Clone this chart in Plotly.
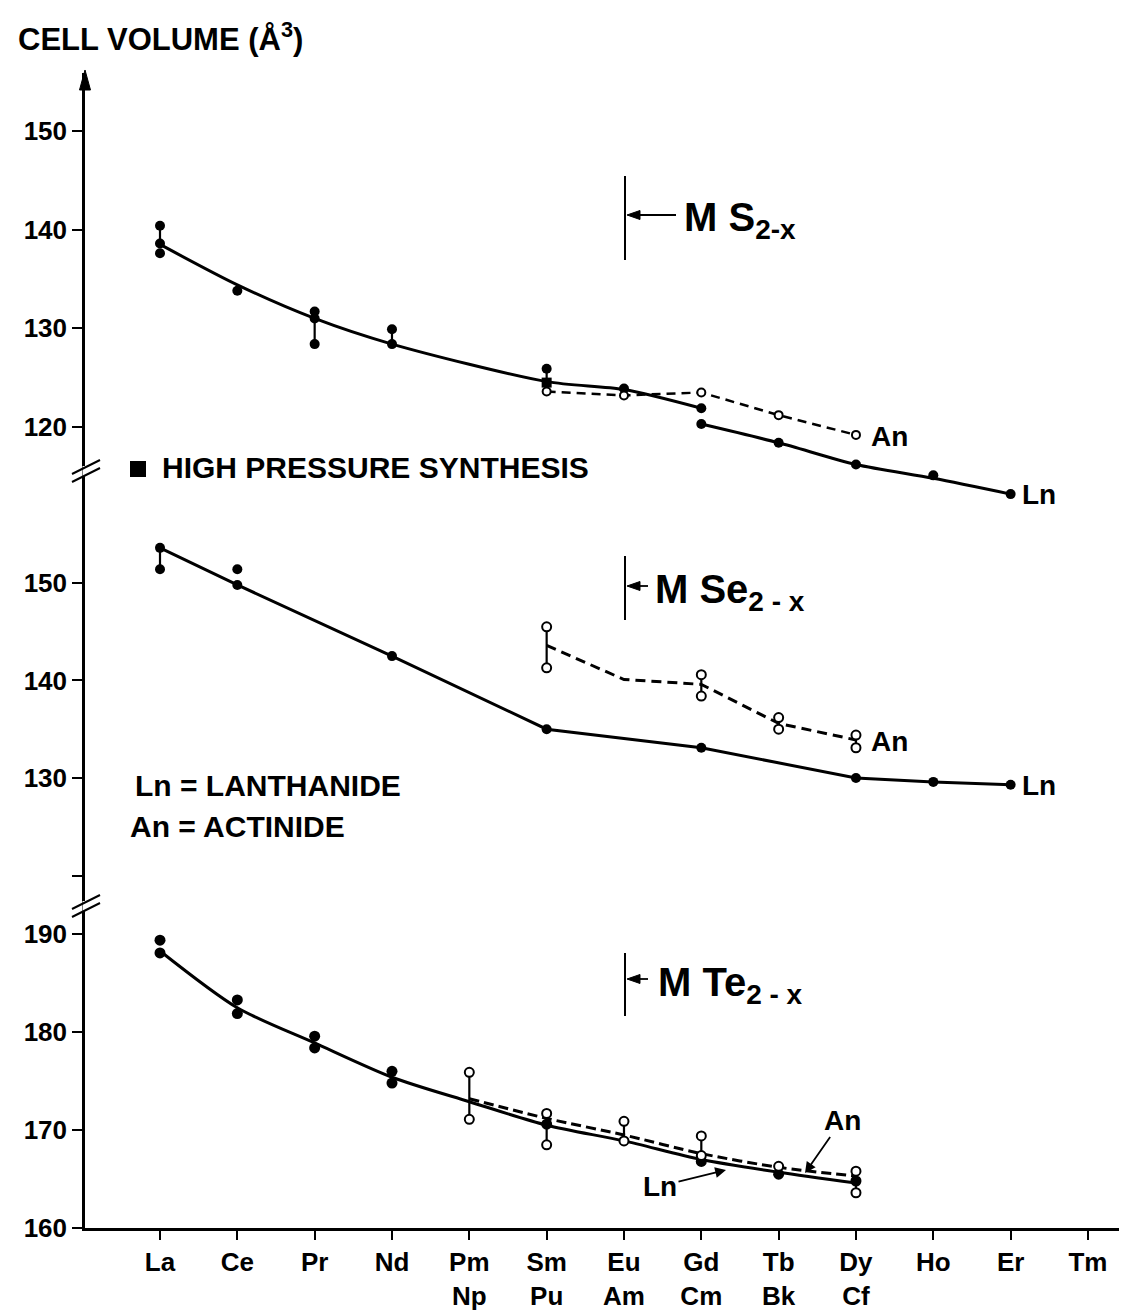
import plotly.graph_objects as go

# ---------------- data ----------------
ln_elements = ["La", "Ce", "Pr", "Nd", "Pm", "Sm", "Eu", "Gd", "Tb", "Dy", "Ho", "Er", "Tm"]
an_elements = ["", "", "", "", "Np", "Pu", "Am", "Cm", "Bk", "Cf", "", "", ""]

# MS2-x panel
s_ln_line1_x = ["La", "Ce", "Pr", "Nd", "Sm", "Eu", "Gd"]
s_ln_line1_y = [138.5, 134.4, 131.0, 128.4, 124.6, 123.8, 121.9]
s_ln_line2_x = ["Gd", "Tb", "Dy", "Ho", "Er"]
s_ln_line2_y = [120.3, 118.4, 116.2, 114.8, 113.2]
s_ln_pts_x = ["La", "La", "La", "Ce", "Pr", "Pr", "Pr", "Nd", "Nd", "Sm", "Eu", "Gd", "Gd", "Tb", "Dy", "Ho", "Er"]
s_ln_pts_y = [140.4, 138.6, 137.6, 133.8, 131.7, 131.0, 128.4, 129.9, 128.4, 125.9, 123.9, 121.9, 120.3, 118.4, 116.2, 115.1, 113.2]
s_hp_x = ["Sm"]
s_hp_y = [124.5]
s_an_x = ["Sm", "Eu", "Gd", "Tb", "Dy"]
s_an_y = [123.6, 123.2, 123.5, 121.2, 119.2]
s_bar_x = ["La", "Pr", "Nd", "Sm"]
s_bar_lo = [138.6, 128.4, 128.4, 123.6]
s_bar_hi = [140.4, 131.7, 129.9, 125.9]

# MSe2-x panel
se_ln_x = ["La", "Ce", "Nd", "Sm", "Gd", "Dy", "Ho", "Er"]
se_ln_y = [153.6, 149.8, 142.5, 135.0, 133.1, 130.0, 129.6, 129.3]
se_ln_pts_x = ["La", "La", "Ce", "Ce", "Nd", "Sm", "Gd", "Dy", "Ho", "Er"]
se_ln_pts_y = [153.6, 151.4, 151.4, 149.8, 142.5, 135.0, 133.1, 130.0, 129.6, 129.3]
se_an_x = ["Sm", "Eu", "Gd", "Tb", "Dy"]
se_an_y = [143.6, 140.1, 139.6, 135.6, 133.9]
se_an_pts_x = ["Sm", "Sm", "Gd", "Gd", "Tb", "Tb", "Dy", "Dy"]
se_an_pts_y = [145.5, 141.3, 140.6, 138.4, 136.2, 135.0, 134.4, 133.1]
se_bar_x = ["La", "Sm", "Gd", "Tb", "Dy"]
se_bar_lo = [151.4, 141.3, 138.4, 135.0, 133.1]
se_bar_hi = [153.6, 145.5, 140.6, 136.2, 134.4]

# MTe2-x panel
te_ln_x = ["La", "Ce", "Pr", "Nd", "Pm", "Sm", "Eu", "Gd", "Tb", "Dy"]
te_ln_y = [188.3, 182.5, 178.9, 175.4, 172.9, 170.5, 168.9, 167.0, 165.7, 164.6]
te_an_x = ["Pm", "Sm", "Eu", "Gd", "Tb", "Dy"]
te_an_y = [173.2, 171.2, 169.5, 167.6, 166.2, 165.3]
te_ln_pts_x = ["La", "La", "Ce", "Ce", "Pr", "Pr", "Nd", "Nd", "Sm", "Gd", "Tb", "Dy"]
te_ln_pts_y = [189.4, 188.1, 183.3, 181.9, 179.6, 178.4, 176.0, 174.8, 170.6, 166.8, 165.5, 164.8]
te_an_pts_x = ["Pm", "Pm", "Sm", "Sm", "Eu", "Eu", "Gd", "Gd", "Tb", "Dy", "Dy"]
te_an_pts_y = [175.9, 171.1, 171.7, 168.5, 170.9, 168.9, 169.4, 167.4, 166.3, 165.8, 163.6]
te_bar_x = ["Pm", "Sm", "Eu", "Gd", "Dy"]
te_bar_lo = [171.1, 168.5, 168.9, 166.8, 163.6]
te_bar_hi = [175.9, 171.7, 170.9, 169.4, 165.8]

s_ticks = [120, 130, 140, 150]
se_ticks = [120, 130, 140, 150]
se_ticklabels = [" ", "130", "140", "150"]
te_ticks = [160, 170, 180, 190]

# ---------------- helpers ----------------
IDX = {e: i for i, e in enumerate(ln_elements)}
FONT = "Liberation Sans, Arial, sans-serif"
W, H = 1127, 1312
ML, MR, MT, MB = 77, 0, 65, 92
PW, PH = W - ML - MR, H - MT - MB


def px(x):
    return (x - ML) / PW


def py(y):
    return (H - MB - y) / PH


def xs(names):
    return [IDX[n] for n in names]


def bars(names, lo, hi):
    bx, by = [], []
    for n, a, b in zip(names, lo, hi):
        bx += [IDX[n], IDX[n], None]
        by += [a, b, None]
    return bx, by


fig = go.Figure()
BLACK = "black"


def line_trace(x, y, ax, dash="solid", shape="linear", width=3):
    fig.add_trace(go.Scatter(x=xs(x), y=y, yaxis=ax, mode="lines",
                             line=dict(color=BLACK, width=width, dash=dash, shape=shape, smoothing=0.8),
                             showlegend=False, hoverinfo="skip"))


def bar_trace(names, lo, hi, ax):
    bx, by = bars(names, lo, hi)
    fig.add_trace(go.Scatter(x=bx, y=by, yaxis=ax, mode="lines",
                             line=dict(color=BLACK, width=2.2), showlegend=False, hoverinfo="skip"))


def filled(x, y, ax, symbol="circle", size=10):
    fig.add_trace(go.Scatter(x=xs(x), y=y, yaxis=ax, mode="markers",
                             marker=dict(symbol=symbol, size=size, color=BLACK, line=dict(width=0)),
                             showlegend=False, hoverinfo="skip", cliponaxis=False))


def opened(x, y, ax, size=9):
    fig.add_trace(go.Scatter(x=xs(x), y=y, yaxis=ax, mode="markers",
                             marker=dict(symbol="circle", size=size, color="white",
                                         line=dict(width=2, color=BLACK)),
                             showlegend=False, hoverinfo="skip", cliponaxis=False))


# S panel (y3)
line_trace(s_ln_line1_x, s_ln_line1_y, "y3", shape="spline")
line_trace(s_ln_line2_x, s_ln_line2_y, "y3", shape="spline")
line_trace(s_an_x, s_an_y, "y3", dash="9px,6px", width=2.5)
bar_trace(s_bar_x, s_bar_lo, s_bar_hi, "y3")
filled(s_ln_pts_x, s_ln_pts_y, "y3")
filled(s_hp_x, s_hp_y, "y3", symbol="square", size=10)
opened(s_an_x, s_an_y, "y3", size=8)

# Se panel (y2)
line_trace(se_ln_x, se_ln_y, "y2")
line_trace(se_an_x, se_an_y, "y2", dash="10px,6px")
bar_trace(se_bar_x, se_bar_lo, se_bar_hi, "y2")
filled(se_ln_pts_x, se_ln_pts_y, "y2")
opened(se_an_pts_x, se_an_pts_y, "y2")

# Te panel (y)
line_trace(te_ln_x, te_ln_y, "y", shape="spline")
line_trace(te_an_x, te_an_y, "y", dash="10px,5px", shape="spline")
bar_trace(te_bar_x, te_bar_lo, te_bar_hi, "y")
filled(te_ln_pts_x, te_ln_pts_y, "y", size=11)
opened(te_an_pts_x, te_an_pts_y, "y")

# ---------------- axes ----------------
tick_font = dict(family=FONT, size=26, color=BLACK, weight="bold")
ticktext = [a if not b else a + "<br>" + b for a, b in zip(ln_elements, an_elements)]
yax_common = dict(showline=True, linecolor=BLACK, linewidth=2.5, ticks="outside", ticklen=10,
                  tickwidth=2, tickcolor=BLACK, showgrid=False, zeroline=False,
                  tickfont=tick_font, anchor="x", fixedrange=True)

S_BOTTOM = 500  # pixel row where the S panel's drawing area ends (curve runs past the break)
fig.update_layout(
    width=W, height=H,
    margin=dict(l=ML, r=MR, t=MT, b=MB),
    paper_bgcolor="white", plot_bgcolor="rgba(0,0,0,0)",
    showlegend=False,
    xaxis=dict(range=[(ML - 152) / 77.33, (W - 152) / 77.33], tickmode="array",
               tickvals=list(range(len(ln_elements))), ticktext=ticktext,
               showline=True, linecolor=BLACK, linewidth=2.5, ticks="outside", ticklen=9,
               tickwidth=2, tickcolor=BLACK, showgrid=False, zeroline=False,
               tickfont=tick_font, fixedrange=True),
    yaxis=dict(domain=[0, py(895)], range=[160, 193.2], tickvals=te_ticks, **yax_common),
    yaxis2=dict(domain=[py(895), py(460)], range=[117.18, 161.79], tickvals=se_ticks,
                ticktext=se_ticklabels, **yax_common),
    yaxis3=dict(domain=[py(S_BOTTOM), 1], range=[120 - (S_BOTTOM - 419) / 9.87, 155.87],
                tickvals=s_ticks, **yax_common),
)

shapes = []
# axis breaks
for yb in (463, 898):
    shapes.append(dict(type="line", xref="paper", yref="paper", x0=px(77), x1=px(77),
                       y0=py(yb + 5), y1=py(yb - 5), line=dict(color="white", width=5)))
    for dy in (-4, 4):
        shapes.append(dict(type="line", xref="paper", yref="paper", x0=px(64), x1=px(92),
                           y0=py(yb + 7 + dy), y1=py(yb - 7 + dy), line=dict(color=BLACK, width=2)))


def tri(points):
    d = "M " + " L ".join(f"{px(a):.5f},{py(b):.5f}" for a, b in points) + " Z"
    return dict(type="path", xref="paper", yref="paper", path=d, fillcolor=BLACK,
                line=dict(color=BLACK, width=1))


# y axis arrow head
shapes.append(tri([(77, 62), (71.5, 82), (82.5, 82)]))
# compound marker bars with arrows
for (y0, y1, ya, xt) in ((168, 252, 207, 668), (548, 612, 578, 640), (945, 1008, 971, 640)):
    shapes.append(dict(type="line", xref="paper", yref="paper", x0=px(617), x1=px(617),
                       y0=py(y1), y1=py(y0), line=dict(color=BLACK, width=2)))
    shapes.append(dict(type="line", xref="paper", yref="paper", x0=px(628), x1=px(xt),
                       y0=py(ya), y1=py(ya), line=dict(color=BLACK, width=1.8)))
    shapes.append(tri([(619, ya), (632, ya - 4.5), (632, ya + 4.5)]))
# high-pressure legend square
shapes.append(dict(type="rect", xref="paper", yref="paper", x0=px(122), x1=px(138),
                   y0=py(469), y1=py(453), fillcolor=BLACK, line=dict(width=0)))
fig.update_layout(shapes=shapes)

annotations = []


def text(x, y, s, size=25, anchor="left", weight="bold"):
    annotations.append(dict(xref="paper", yref="paper", x=px(x), y=py(y), text=s, showarrow=False,
                            xanchor=anchor, yanchor="middle",
                            font=dict(family=FONT, size=size, color=BLACK, weight=weight)))


text(8, 29, "CELL VOLUME (Å<sup>3</sup>)", size=31)

text(674, 212, "M S<sub>2-x</sub>", size=40)
text(645, 584, "M Se<sub>2 - x</sub>", size=40)
text(648, 977, "M Te<sub>2 - x</sub>", size=40)

text(152, 460, "HIGH PRESSURE SYNTHESIS", size=30)
text(125, 778, "Ln = LANTHANIDE", size=30)
text(120, 818, "An = ACTINIDE", size=30)

text(861, 428, "An", size=28)
text(1012, 486, "Ln", size=28)
text(861, 733, "An", size=28)
text(1012, 777, "Ln", size=28)

annotations.append(dict(xref="paper", yref="paper", x=px(718), y=py(1162), axref="pixel", ayref="pixel",
                        ax=-66, ay=16, text="Ln", showarrow=True, arrowhead=2, arrowsize=1.2,
                        arrowwidth=1.8, arrowcolor=BLACK, standoff=0,
                        font=dict(family=FONT, size=28, color=BLACK, weight="bold")))
annotations.append(dict(xref="paper", yref="paper", x=px(797), y=py(1165), axref="pixel", ayref="pixel",
                        ax=37, ay=-53, text="An", showarrow=True, arrowhead=2, arrowsize=1.2,
                        arrowwidth=1.8, arrowcolor=BLACK, standoff=0,
                        font=dict(family=FONT, size=28, color=BLACK, weight="bold")))

fig.update_layout(annotations=annotations)
fig.write_html("out.html")
